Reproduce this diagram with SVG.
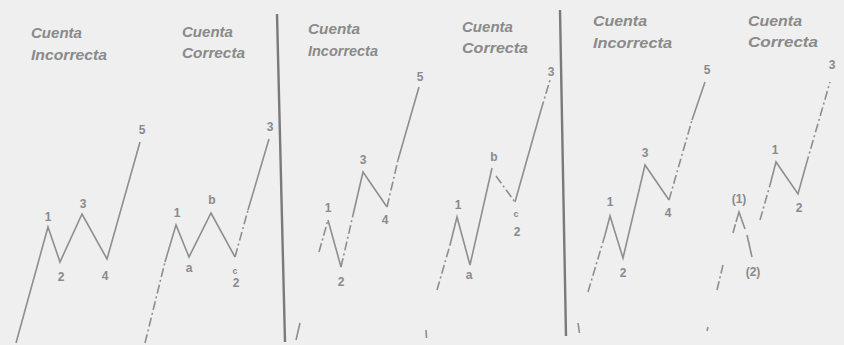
<svg xmlns="http://www.w3.org/2000/svg" width="844" height="345" viewBox="0 0 844 345">
<style>
.bg{fill:#efefef}
.ln{fill:none;stroke:#8e8e8e;stroke-width:1.6;stroke-linejoin:miter;stroke-linecap:butt}
.dd{stroke-dasharray:9 3 2 3}
.dv{fill:none;stroke:#7a7a7a;stroke-width:2.4}
.tt{font-family:"Liberation Sans",Arial,sans-serif;font-style:italic;font-weight:bold;font-size:14.5px;fill:#8a8a8a}
.lb{font-family:"Liberation Sans",Arial,sans-serif;font-weight:bold;font-size:12px;fill:#8a8a8a;text-anchor:middle}
</style>
<rect class="bg" x="0" y="0" width="844" height="345"/>
<g id="dividers">
<path class="dv" d="M277,14 L285,342"/>
<path class="dv" d="M560,10 L566,336"/>
</g>
<g id="panel1">
<text class="tt" x="31" y="38" textLength="51" lengthAdjust="spacingAndGlyphs">Cuenta</text>
<text class="tt" x="31" y="60" textLength="76" lengthAdjust="spacingAndGlyphs">Incorrecta</text>
<path class="ln" d="M16,343 L48,227 L60,262 L82,214 L107,259 L140,142"/>
<text class="lb" x="48" y="221">1</text>
<text class="lb" x="61" y="281">2</text>
<text class="lb" x="83" y="208">3</text>
<text class="lb" x="105" y="280">4</text>
<text class="lb" x="142" y="134">5</text>
</g>
<g id="panel2">
<text class="tt" x="182" y="37" textLength="51" lengthAdjust="spacingAndGlyphs">Cuenta</text>
<text class="tt" x="182" y="58" textLength="63" lengthAdjust="spacingAndGlyphs">Correcta</text>
<path class="ln dd" d="M145,343 L165,262"/>
<path class="ln" d="M165,262 L176,225 L189,257 L211,213 L235,257"/>
<path class="ln dd" d="M235,257 L248,210"/>
<path class="ln" d="M248,210 L269,139"/>
<text class="lb" x="177" y="217">1</text>
<text class="lb" x="189" y="272">a</text>
<text class="lb" x="212" y="204">b</text>
<text class="lb" x="235" y="274" style="font-size:9px">c</text>
<text class="lb" x="236" y="287">2</text>
<text class="lb" x="270" y="131">3</text>
</g>
<g id="panel3">
<text class="tt" x="308" y="34" textLength="52" lengthAdjust="spacingAndGlyphs">Cuenta</text>
<text class="tt" x="308" y="56" textLength="70" lengthAdjust="spacingAndGlyphs">Incorrecta</text>
<path class="ln" d="M296,340 L300,323"/>
<path class="ln dd" d="M319,252 L328,220"/>
<path class="ln" d="M328,220 L341,267"/>
<path class="ln dd" d="M341,267 L353,215"/>
<path class="ln" d="M353,215 L363,172 L387,207"/>
<path class="ln dd" d="M387,207 L398,160"/>
<path class="ln" d="M398,160 L419,87"/>
<text class="lb" x="328" y="212">1</text>
<text class="lb" x="341" y="286">2</text>
<text class="lb" x="363" y="164">3</text>
<text class="lb" x="385" y="224">4</text>
<text class="lb" x="420" y="81">5</text>
<path class="ln" d="M426,330 L426.5,338"/>
</g>
<g id="panel4">
<text class="tt" x="462" y="32" textLength="51" lengthAdjust="spacingAndGlyphs">Cuenta</text>
<text class="tt" x="462" y="53" textLength="66" lengthAdjust="spacingAndGlyphs">Correcta</text>
<path class="ln dd" d="M437,290 L450,245"/>
<path class="ln" d="M450,245 L457,217 L470,265 L492,168"/>
<path class="ln dd" d="M496,176 L515,202"/>
<path class="ln" d="M515,202 L541,110"/>
<path class="ln dd" d="M541,110 L550,80"/>
<text class="lb" x="458" y="209">1</text>
<text class="lb" x="469" y="279">a</text>
<text class="lb" x="494" y="161">b</text>
<text class="lb" x="516" y="217" style="font-size:9px">c</text>
<text class="lb" x="517" y="236">2</text>
<text class="lb" x="551" y="76">3</text>
</g>
<g id="panel5">
<text class="tt" x="593" y="26" textLength="54" lengthAdjust="spacingAndGlyphs">Cuenta</text>
<text class="tt" x="593" y="48" textLength="79" lengthAdjust="spacingAndGlyphs">Incorrecta</text>
<path class="ln" d="M578,323 L579.5,333"/>
<path class="ln dd" d="M588,292 L605,235"/>
<path class="ln" d="M605,235 L610,216 L623,258 L645,165 L669,200"/>
<path class="ln dd" d="M669,200 L692,120"/>
<path class="ln" d="M692,120 L705,82"/>
<text class="lb" x="610" y="206">1</text>
<text class="lb" x="623" y="277">2</text>
<text class="lb" x="645" y="157">3</text>
<text class="lb" x="668" y="217">4</text>
<text class="lb" x="707" y="74">5</text>
</g>
<g id="panel6">
<text class="tt" x="748" y="26" textLength="54" lengthAdjust="spacingAndGlyphs">Cuenta</text>
<text class="tt" x="748" y="47" textLength="70" lengthAdjust="spacingAndGlyphs">Correcta</text>
<path class="ln" d="M707,331 L708,327"/>
<path class="ln dd" d="M717,290 L723,265"/>
<path class="ln dd" d="M733,233 L736,222"/>
<path class="ln" d="M736,222 L739,212 L745,229"/>
<path class="ln" d="M747,235 L752,257"/>
<path class="ln dd" d="M760,220 L770,185"/>
<path class="ln" d="M770,185 L776,162 L798,194 L806,165"/>
<path class="ln dd" d="M806,165 L830,82"/>
<text class="lb" x="739" y="203">(1)</text>
<text class="lb" x="753" y="276">(2)</text>
<text class="lb" x="775" y="154">1</text>
<text class="lb" x="799" y="212">2</text>
<text class="lb" x="832" y="69">3</text>
</g>
</svg>
